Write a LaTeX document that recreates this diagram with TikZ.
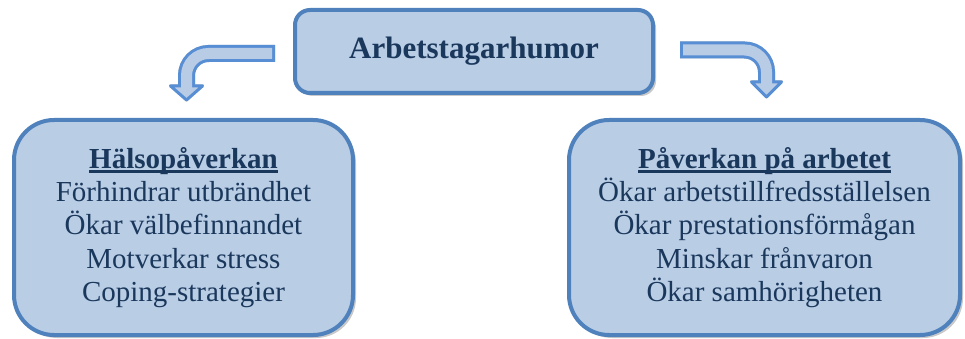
\documentclass[tikz,border=0pt]{standalone}
\usepackage{fontspec}
\setmainfont{Liberation Serif}
\usepackage{tikz}
\usetikzlibrary{calc, positioning, shadows}
\usepackage{xcolor}

\definecolor{boxline}{RGB}{79,129,189}
\definecolor{boxfill}{RGB}{185,205,229}
\definecolor{arrowline}{RGB}{88,142,212}
\definecolor{arrowfill}{RGB}{184,204,230}
\definecolor{textblue}{RGB}{26,55,92}

% underlined heading
\newcommand{\hdr}[1]{\setbox0\hbox{\textbf{#1}}\leavevmode\rlap{\rule[-4.5pt]{\wd0}{2.2pt}}\box0}

\tikzset{
	bluebox/.style={draw=boxline, fill=boxfill, line width=4pt, text=textblue,
		align=center, inner sep=0pt,
		drop shadow={shadow xshift=3pt, shadow yshift=-3pt, opacity=0.3, fill=black!70}},
	bodyfont/.style={font=\fontsize{29}{33.4}\selectfont},
	arrowshadow/.style={line width=17pt, draw=black!20, rounded corners=22pt},
	arrowout/.style={line width=17pt, draw=arrowline, rounded corners=22pt},
	arrowin/.style={line width=11pt, draw=arrowfill, rounded corners=22pt,
		shorten <=3pt, shorten >=-3pt},
	arrowhead/.style={draw=arrowline, fill=arrowfill, line width=3pt, line join=round},
}

\begin{document}
\begin{tikzpicture}[x=1pt, y=-1pt]
	\useasboundingbox (0,0) rectangle (965,339);

	\node[bluebox, rounded corners=15pt, minimum width=358pt, minimum height=83pt,
		font=\fontsize{31}{36}\selectfont\bfseries] (top) at (474,51.5) {Arbetstagarhumor};

	\node[bluebox, bodyfont, rounded corners=40pt, minimum width=339pt, minimum height=215pt]
		(halsa) at (183.5,227.5)
		{\hdr{Hälsopåverkan}\\Förhindrar utbrändhet\\Ökar välbefinnandet\\Motverkar stress\\Coping-strategier};

	\node[bluebox, bodyfont, rounded corners=40pt, minimum width=391pt, minimum height=215pt]
		(arbete) at (764.5,227.5)
		{\hdr{Påverkan på arbetet}\\Ökar arbetstillfredsställelsen\\Ökar prestationsförmågan\\Minskar frånvaron\\Ökar samhörigheten};

	% left bent arrow
	\coordinate (lstart) at ($(top.west)+(-18,2)$);
	\coordinate (ltip) at ($(halsa.north)+(3,-18)$);
	\coordinate (lbase) at ($(ltip)+(0,-14)$);
	\draw[arrowshadow, shift={(2pt,-2pt)}] (lstart) -- (lbase |- lstart) -- (lbase);
	\fill[black!20, shift={(2pt,-2pt)}] ($(lbase)+(-17.5,-1.5)$) -- ($(lbase)+(17.5,-1.5)$) -- ($(ltip)+(0,2)$) -- cycle;
	\draw[arrowout] (lstart) -- (lbase |- lstart) -- (lbase);
	\draw[arrowhead] ($(lbase)+(-16,0)$) -- ($(lbase)+(16,0)$) -- (ltip) -- cycle;
	\draw[arrowin] (lstart) -- (lbase |- lstart) -- (lbase);

	% right bent arrow
	\coordinate (rstart) at ($(top.east)+(25,-1.5)$);
	\coordinate (rtip) at ($(arbete.north)+(2,-21)$);
	\coordinate (rbase) at ($(rtip)+(0,-15)$);
	\draw[arrowshadow, shift={(2pt,-2pt)}] (rstart) -- (rbase |- rstart) -- (rbase);
	\fill[black!20, shift={(2pt,-2pt)}] ($(rbase)+(-16.5,-1.5)$) -- ($(rbase)+(16.5,-1.5)$) -- ($(rtip)+(0,2)$) -- cycle;
	\draw[arrowout] (rstart) -- (rbase |- rstart) -- (rbase);
	\draw[arrowhead] ($(rbase)+(-15,0)$) -- ($(rbase)+(15,0)$) -- (rtip) -- cycle;
	\draw[arrowin] (rstart) -- (rbase |- rstart) -- (rbase);
\end{tikzpicture}
\end{document}
